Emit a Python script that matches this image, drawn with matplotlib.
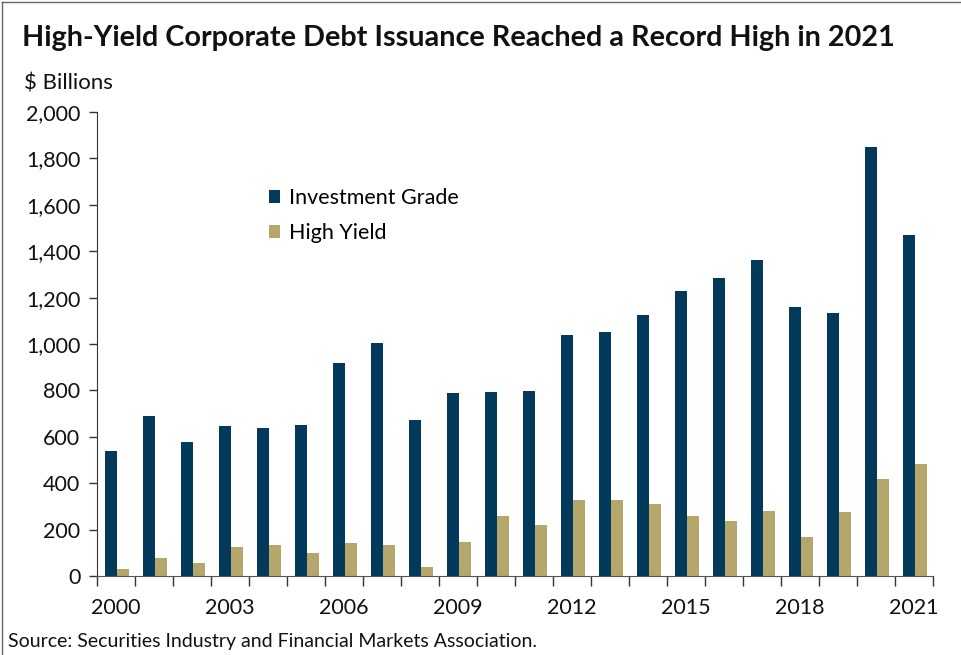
import matplotlib
matplotlib.use("Agg")
import matplotlib.pyplot as plt
import numpy as np
from matplotlib.lines import Line2D

years = list(range(2000, 2022))
investment_grade = [539, 690, 576, 647, 638, 653, 918, 1006, 672, 790, 793, 796,
                    1039, 1050, 1124, 1230, 1286, 1364, 1160, 1134, 1849, 1468]
high_yield = [32, 76, 56, 126, 134, 98, 142, 134, 39, 146, 258, 221,
              329, 329, 312, 257, 236, 280, 170, 276, 420, 483]
label_years = [2000, 2003, 2006, 2009, 2012, 2015, 2018, 2021]
yticks = [0, 200, 400, 600, 800, 1000, 1200, 1400, 1600, 1800, 2000]

IG_COLOR = "#033a5c"
HY_COLOR = "#b5a66b"
FONT = "Lato"

fig = plt.figure(figsize=(9.61, 6.55), dpi=100)
ax = fig.add_axes([97/961, 1-576/655, (933-97)/961, (576-112)/655])

x = np.arange(len(years))
w = 0.31
ax.bar(x - w/2 + 0.03, investment_grade, width=w, color=IG_COLOR, label="Investment Grade")
ax.bar(x + w/2 + 0.03, high_yield, width=w, color=HY_COLOR, label="High Yield")

ax.set_xlim(-0.5, len(years) - 0.5)
ax.set_ylim(0, 2000)
ax.set_yticks(yticks)
ax.set_yticklabels([f"{v:,}" for v in yticks], fontsize=15.5, family=FONT, color="#111111")
ax.set_xticks(np.arange(len(years) + 1) - 0.5)
ax.set_xticklabels([])
ax.set_xticks([years.index(y) for y in label_years], minor=True)
ax.set_xticklabels([str(y) for y in label_years], minor=True, fontsize=15.5, family=FONT, color="#111111")
ax.tick_params(axis="x", which="major", length=7, width=1, color="#333333", direction="out")
ax.tick_params(axis="x", which="minor", length=0, pad=16)
ax.tick_params(axis="y", length=6, width=1, color="#333333", direction="out", pad=6)

for s in ["top", "right"]:
    ax.spines[s].set_visible(False)
ax.spines["left"].set_color("#333333")
ax.spines["bottom"].set_color("#555555")

leg = ax.legend(loc="upper left", bbox_to_anchor=(0.182, 0.878), frameon=False,
                prop={"family": FONT, "size": 15.5}, handlelength=0.55, handleheight=0.55,
                handletextpad=0.4, labelspacing=0.72)

fig.text(22/961, 1-38/655, "High-Yield Corporate Debt Issuance Reached a Record High in 2021",
         fontsize=20.7, fontweight="bold", family=FONT, va="center", ha="left", color="#111111")
fig.text(24/961, 1-83/655, "$ Billions", fontsize=16, family=FONT, va="center", ha="left", color="#111111")
fig.text(8/961, 1-642/655, "Source: Securities Industry and Financial Markets Association.",
         fontsize=14, family=FONT, va="center", ha="left", color="#111111")

fig.add_artist(Line2D([2/961, 2/961], [0, 1-2/655], transform=fig.transFigure, color="#666666", lw=1))
fig.add_artist(Line2D([2/961, 1], [1-2/655, 1-2/655], transform=fig.transFigure, color="#666666", lw=1))

fig.savefig("out.png", dpi=100)
